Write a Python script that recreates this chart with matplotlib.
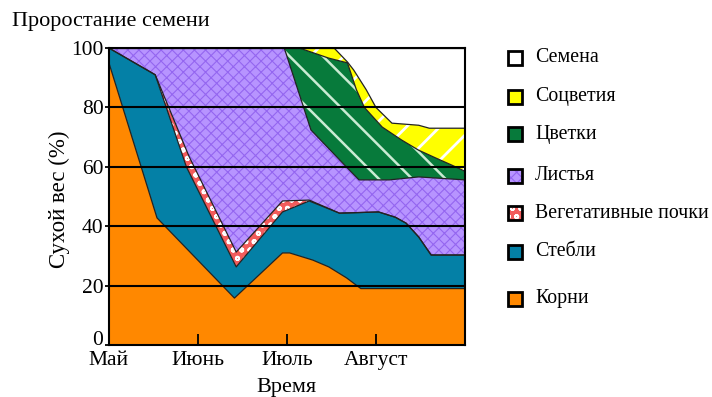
import numpy as np
import matplotlib
matplotlib.use('Agg')
import matplotlib.pyplot as plt
from matplotlib.patches import Rectangle

plt.rcParams['font.family'] = ['Liberation Serif', 'DejaVu Serif']

# cumulative upper boundary of every layer (% dry weight)
months = ['Май', 'Июнь', 'Июль', 'Август']

roots_x = [0, 0.54, 1.41, 1.95, 2.03, 2.29, 2.47, 2.67, 2.83, 4]
roots_y = [95, 42.8, 15.8, 31, 31, 28.6, 26.3, 22.6, 19, 19]

stems_x = [0, 0.52, 0.87, 1.43, 1.95, 2.25, 2.59, 3.03, 3.22, 3.34, 3.48, 3.62, 4]
stems_y = [100, 91, 60, 26.3, 44.8, 48.5, 44.4, 44.8, 43, 41, 36.4, 30.3, 30.3]

buds_x = [0, 0.52, 0.9, 1.43, 1.95, 2.25, 2.59, 3.03, 3.22, 3.34, 3.48, 3.62, 4]
buds_y = [100, 91, 63.5, 31.3, 48.5, 48.8, 44.4, 44.8, 43, 41, 36.4, 30.3, 30.3]

leaves_x = [0, 1.97, 2.27, 2.67, 2.81, 3.15, 3.48, 4]
leaves_y = [100, 100, 72.4, 59.9, 55.6, 55.6, 56.6, 55.6]

flowers_x = [0, 2.14, 2.47, 2.68, 2.78, 2.87, 3.07, 3.29, 3.48, 3.67, 3.85, 4]
flowers_y = [100, 100, 96.6, 95, 86, 80, 73.4, 69, 65.6, 63, 60.6, 58.5]

infl_x = [0, 2.53, 2.68, 2.75, 2.89, 3.0, 3.18, 3.48, 3.6, 4]
infl_y = [100, 100, 95.3, 92.6, 86, 80, 74.7, 74, 73, 73]

seeds_x = [0, 4]
seeds_y = [100, 100]

labels = ['Семена', 'Соцветия', 'Цветки', 'Листья',
          'Вегетативные почки', 'Стебли', 'Корни']

# (top boundary, face colour, hatch, hatch colour, hatch width)
layers = [
    (roots_x, roots_y, '#FF8800', None, '#FF8800', 1.0),
    (stems_x, stems_y, '#0480A6', None, '#0480A6', 1.0),
    (buds_x, buds_y, '#F25C5C', 'oo', 'white', 1.3),
    (leaves_x, leaves_y, '#B794FF', 'xxx', '#9466F0', 0.8),
    (flowers_x, flowers_y, '#077A3B', '\\', '#C9EBD3', 1.8),
    (infl_x, infl_y, '#FFFF00', '/', 'white', 2.0),
    (seeds_x, seeds_y, 'white', None, 'white', 1.0),
]

fig = plt.figure(figsize=(7.12, 3.97), dpi=100)
ax = fig.add_axes([0.153, 0.131, 0.5, 0.748])

low_x, low_y = [0, 4], [0, 0]
for tx, ty, fc, hatch, hc, hw in layers:
    xs = list(tx) + list(low_x)[::-1]
    ys = list(ty) + list(low_y)[::-1]
    with plt.rc_context({'hatch.linewidth': hw}):
        ax.fill(xs, ys, facecolor=fc, edgecolor=hc, hatch=hatch, linewidth=0, zorder=1)
    ax.plot(tx, ty, color='#222222', lw=0.9, zorder=2)
    low_x, low_y = tx, ty

for g in [20, 40, 60, 80]:
    ax.axhline(g, color='black', lw=1.5, zorder=3)

ax.set_xlim(0, 4)
ax.set_ylim(0, 100)
ax.set_xticks([0, 1, 2, 3])
ax.set_xticklabels(months, fontsize=15.5)
ax.set_yticks([0, 20, 40, 60, 80, 100])
ax.tick_params(axis='x', direction='in', length=8, width=1.3, pad=4)
ax.tick_params(axis='y', direction='out', length=3, width=1.3, pad=1, labelsize=15.5)
ax.get_yticklabels()[0].set_va('baseline')  # the "0" sits a little higher, clear of "Май"
for s in ax.spines.values():
    s.set_linewidth(1.5)
    s.set_zorder(4)
ax.set_xlabel('Время', fontsize=16, labelpad=6)
ax.set_ylabel('Сухой вес (%)', fontsize=16.5)
ax.yaxis.set_label_coords(-0.11, 0.49)

fig.text(0.017, 0.945, 'Проростание семени', fontsize=16, va='center', ha='left')

# legend drawn by hand
leg_y = [58, 97, 134, 176, 213, 252, 299]
W, H = 712, 397
for (tx, ty, fc, hatch, hc, hw), lab, py in zip(layers[::-1], labels, leg_y):
    with plt.rc_context({'hatch.linewidth': hw}):
        r = Rectangle((508 / W, 1 - (py + 7) / H), 14 / W, 14 / H, transform=fig.transFigure,
                      facecolor=fc, edgecolor=hc, hatch=hatch, lw=0)
    fig.add_artist(r)
    fig.add_artist(Rectangle((508 / W, 1 - (py + 7) / H), 14 / W, 14 / H, transform=fig.transFigure,
                             facecolor='none', edgecolor='black', lw=2))
    fig.text(535 / W, 1 - py / H, lab, fontsize=14.3, va='center', ha='left')

fig.savefig('out.png', dpi=100)
